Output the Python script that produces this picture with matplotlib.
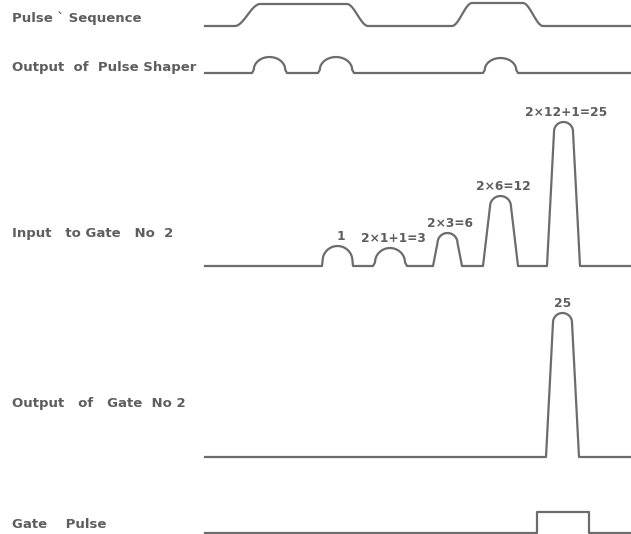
import numpy as np
import matplotlib.pyplot as plt

# rows of the timing diagram (time runs left to right, screen units)
row_labels = ["Pulse ` Sequence", "Output  of  Pulse Shaper", "Input   to Gate   No  2",
              "Output   of   Gate  No 2", "Gate    Pulse"]
label_y = [18, 67, 233, 403, 525]
baselines = [26, 73, 266, 457, 533]
t_start, t_end = 205, 631

# pulse sequence: [rise start, rise end, fall start, fall end], amplitude
seq_edges = [[235, 260, 347, 368], [452, 472, 523, 543]]
seq_amp = [22, 23]

# pulse shaper output: start, end, amplitude
shaper_left = [252, 318, 483]
shaper_right = [287, 354, 518]
shaper_amp = [16, 16, 15]

# input to gate no 2
gin_left = [322, 373, 433, 483, 547]
gin_right = [353, 407, 462, 518, 580]
gin_amp = [20, 18, 33, 70, 144]
gin_top = [30, 30, 20, 21, 19]
gin_text = ["1", "2×1+1=3", "2×3=6", "2×6=12", "2×12+1=25"]

# output of gate no 2
gout_left = [546]
gout_right = [579]
gout_amp = [144]
gout_top = [19]
gout_text = ["25"]

# gate pulse
gate_left, gate_right, gate_amp = 537, 589, 21

LINE = '#6c6c6c'
TXT = '#5e5e5e'


def rounded_pulse(x0, x1, h, topw):
    # slanted sides with a rounded (elliptic) cap
    cx = (x0 + x1) / 2
    a = topw / 2
    b = min(a, h * 0.8)
    th = np.linspace(np.pi, 0, 40)
    xs = [x0] + list(cx + a * np.cos(th)) + [x1]
    ys = [0] + list(h - b + b * np.sin(th)) + [0]
    return xs, ys


def build_row(pulses, base):
    xs, ys = [t_start], [0]
    for px, py in pulses:
        xs += list(px)
        ys += list(py)
    xs.append(t_end)
    ys.append(0)
    return np.array(xs), base - np.array(ys)


fig = plt.figure(figsize=(6.31, 5.34), dpi=100)
ax = fig.add_axes([0, 0, 1, 1])
ax.set_xlim(0, 631)
ax.set_ylim(534, 0)
ax.axis('off')

# row 0: smoothed square pulses
pulses = []
s = np.linspace(0, 1, 20)
ss = 3 * s**2 - 2 * s**3
for (r0, r1, f0, f1), h in zip(seq_edges, seq_amp):
    px = list(r0 + (r1 - r0) * s) + list(f0 + (f1 - f0) * s)
    py = list(h * ss) + list(h * (1 - ss))
    pulses.append((px, py))
ax.plot(*build_row(pulses, baselines[0]), color=LINE, lw=1.6)

# row 1: pulse shaper bumps
pulses = [rounded_pulse(l, r, h, (r - l) * 0.9)
          for l, r, h in zip(shaper_left, shaper_right, shaper_amp)]
ax.plot(*build_row(pulses, baselines[1]), color=LINE, lw=1.6)

# row 2: input to gate
pulses = [rounded_pulse(l, r, h, w)
          for l, r, h, w in zip(gin_left, gin_right, gin_amp, gin_top)]
ax.plot(*build_row(pulses, baselines[2]), color=LINE, lw=1.6)
for l, r, h, t in zip(gin_left, gin_right, gin_amp, gin_text):
    ax.text((l + r) / 2 + 3, baselines[2] - h - 3, t, ha='center', va='bottom',
            fontsize=8.8, fontweight='bold', color=TXT)

# row 3: output of gate
pulses = [rounded_pulse(l, r, h, w)
          for l, r, h, w in zip(gout_left, gout_right, gout_amp, gout_top)]
ax.plot(*build_row(pulses, baselines[3]), color=LINE, lw=1.6)
for l, r, h, t in zip(gout_left, gout_right, gout_amp, gout_text):
    ax.text((l + r) / 2, baselines[3] - h - 3, t, ha='center', va='bottom',
            fontsize=8.8, fontweight='bold', color=TXT)

# row 4: gate pulse (square)
gx = [t_start, gate_left, gate_left, gate_right, gate_right, t_end]
gy = [0, 0, gate_amp, gate_amp, 0, 0]
ax.plot(gx, baselines[4] - np.array(gy), color=LINE, lw=1.6)

for lab, y in zip(row_labels, label_y):
    ax.text(12, y, lab, ha='left', va='center', fontsize=9.5,
            fontweight='bold', color=TXT)

fig.savefig('out.png', dpi=100)
